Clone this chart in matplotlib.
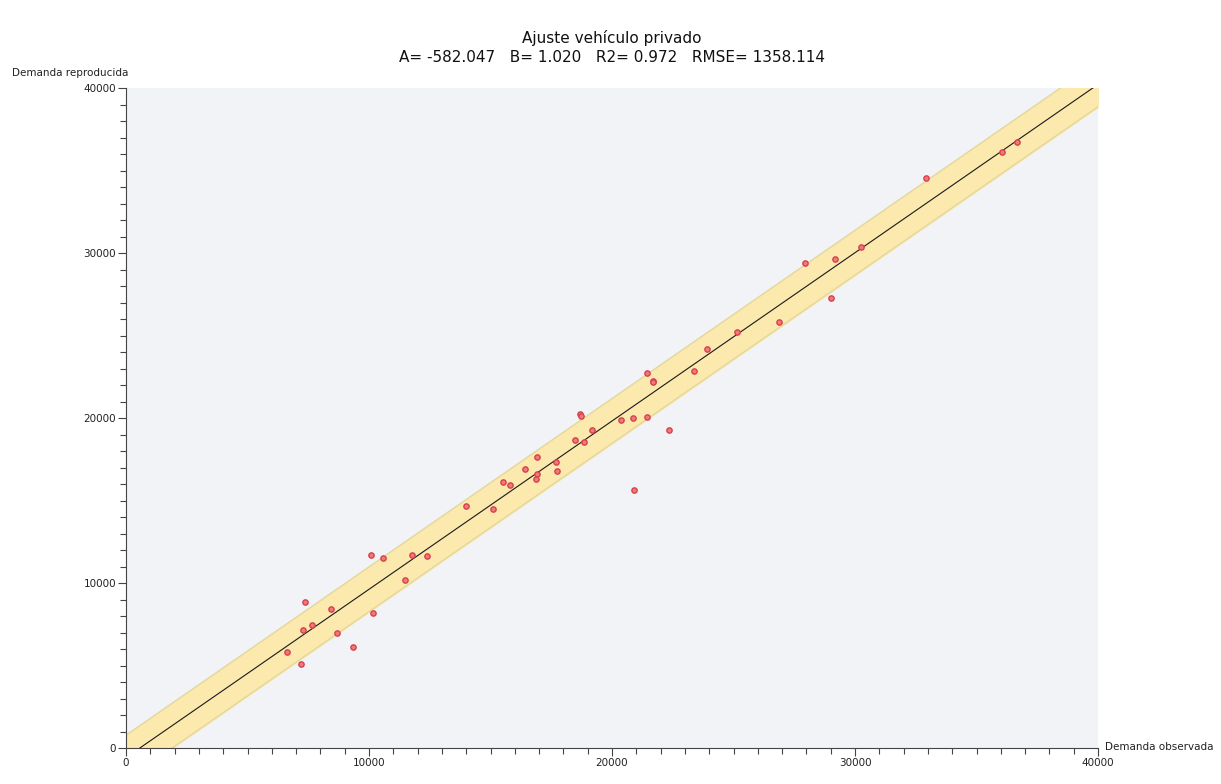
#!/usr/bin/env python3
import numpy as np
import matplotlib
matplotlib.use("Agg")
import matplotlib.pyplot as plt
from matplotlib.ticker import MultipleLocator

# fit parameters from the title
A = -582.047
B = 1.020
R2 = 0.972
RMSE = 1358.114

observada = [6612, 7202, 7284, 7366, 7642, 8423, 8670, 9342, 10082, 10165,
             10563, 11469, 11753, 12370, 13992, 15090, 15502, 15815, 16407, 16913,
             16913, 16886, 17683, 17737, 18464, 18848, 19177, 18696, 18724, 20355,
             20864, 21426, 21453, 21687, 21700, 22357, 20893, 23387, 23897, 25131,
             26860, 29025, 27930, 29190, 30247, 32934, 36049, 36667]
reproducida = [5798, 5091, 7131, 8869, 7475, 8444, 6990, 6141, 11717, 8162,
               11535, 10202, 11717, 11656, 14685, 14485, 16141, 15960, 16889, 17657,
               16606, 16323, 17354, 16788, 18646, 18525, 19291, 20242, 20141, 19879,
               19980, 20081, 22707, 22242, 22182, 19291, 15616, 22828, 24164, 25212,
               25800, 27291, 29394, 29636, 30384, 34564, 36139, 36727]

xmax = 40000
ymax = 40000

fig = plt.figure(figsize=(12.21, 7.84), dpi=100)
ax = fig.add_axes([126/1221, 1 - 748/784, 972/1221, 660/784])
ax.set_facecolor('#f1f3f6')

xs = np.array([-1000.0, xmax + 1000.0])
fit = A + B*xs
ax.fill_between(xs, fit - RMSE, fit + RMSE, color='#fbe9ae', zorder=1)
ax.plot(xs, fit - RMSE, color='#e4d79c', lw=1.0, zorder=2)
ax.plot(xs, fit + RMSE, color='#e4d79c', lw=1.0, zorder=2)
ax.plot(xs, fit, color='#1a1a1a', lw=0.8, zorder=3)

ax.plot(observada, reproducida, 'o', ms=3.8, mfc='#ec7b7b', mec='#d9404a',
        mew=1.0, zorder=4, clip_on=False)

ax.set_xlim(0, xmax)
ax.set_ylim(0, ymax)
ax.xaxis.set_major_locator(MultipleLocator(10000))
ax.yaxis.set_major_locator(MultipleLocator(10000))
ax.xaxis.set_minor_locator(MultipleLocator(1000))
ax.yaxis.set_minor_locator(MultipleLocator(1000))
ax.tick_params(which='major', length=6, width=0.8, color='#444444',
               labelsize=7.5, labelcolor='#222222', pad=1)
ax.tick_params(which='minor', length=4, width=0.8, color='#444444')

for s in ['top', 'right']:
    ax.spines[s].set_visible(False)
for s in ['left', 'bottom']:
    ax.spines[s].set_color('#444444')
    ax.spines[s].set_linewidth(0.8)

fig.text(612/1221, 1 - 38/784, "Ajuste vehículo privado", ha='center',
         va='center', fontsize=11, color='#111111')
fig.text(612/1221, 1 - 58/784,
         "A= {:.3f}   B= {:.3f}   R2= {:.3f}   RMSE= {:.3f}".format(A, B, R2, RMSE),
         ha='center', va='center', fontsize=11, color='#111111')
fig.text(12/1221, 1 - 73/784, "Demanda reproducida", ha='left', va='center',
         fontsize=7.5, color='#222222')
fig.text(1105/1221, 1 - 747/784, "Demanda observada", ha='left', va='center',
         fontsize=7.5, color='#222222')

fig.savefig("out.png", dpi=100, facecolor='white')
